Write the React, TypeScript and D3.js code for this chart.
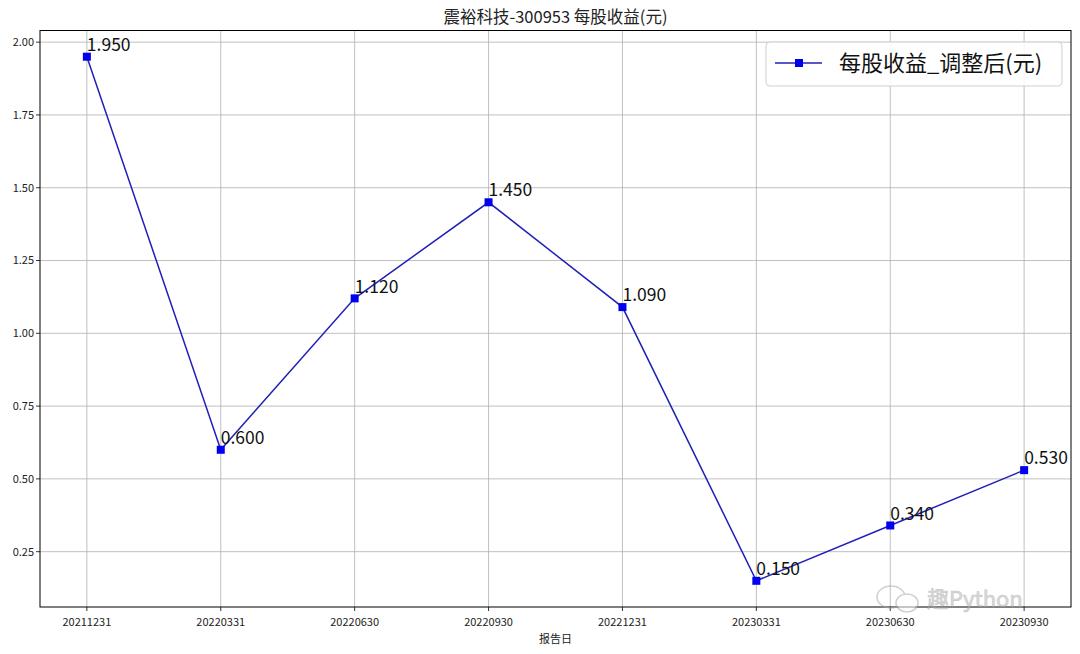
import React from "react";
import * as d3 from "d3";

const dates = ["20211231", "20220331", "20220630", "20220930", "20221231", "20230331", "20230630", "20230930"];
const eps = [1.95, 0.6, 1.12, 1.45, 1.09, 0.15, 0.34, 0.53];
const yTicks = [0.25, 0.5, 0.75, 1.0, 1.25, 1.5, 1.75, 2.0];

const W = 1080, H = 654;
const L = 40, R = 1071, T = 30.5, B = 607;
const FONT = "'Noto Sans CJK SC', 'Noto Sans', sans-serif";

export default function App() {
  const x = d3.scaleLinear().domain([-0.35, dates.length - 1 + 0.35]).range([L, R]);
  const yMin = 0.06, yMax = 2.04;
  const y = d3.scaleLinear().domain([yMin, yMax]).range([B, T]);
  const line = d3.line<number>().x((_, i) => x(i)).y((d) => y(d));
  return (
    <svg width={W} height={H} style={{ position: "absolute", left: 0, top: 0, background: "#fff" }} fontFamily={FONT}>
      <rect x={0} y={0} width={W} height={H} fill="#fff" />
      {/* grid */}
      {dates.map((_, i) => (
        <line key={"gx" + i} x1={x(i)} x2={x(i)} y1={T} y2={B} stroke="#b0b0b0" strokeWidth={0.8} />
      ))}
      {yTicks.map((t) => (
        <line key={"gy" + t} x1={L} x2={R} y1={y(t)} y2={y(t)} stroke="#b0b0b0" strokeWidth={0.8} />
      ))}
      {/* axes frame */}
      <rect x={L} y={T} width={R - L} height={B - T} fill="none" stroke="#000" strokeWidth={1} />
      {/* ticks */}
      {yTicks.map((t) => (
        <g key={"ty" + t}>
          <line x1={L - 4} x2={L} y1={y(t)} y2={y(t)} stroke="#000" strokeWidth={0.8} />
          <text x={L - 6} y={y(t)} dy="0.35em" textAnchor="end" fontSize={11} fill="#222">
            {t.toFixed(2)}
          </text>
        </g>
      ))}
      {dates.map((d, i) => (
        <g key={"tx" + i}>
          <line x1={x(i)} x2={x(i)} y1={B} y2={B + 4} stroke="#000" strokeWidth={0.8} />
          <text x={x(i)} y={B + 19} textAnchor="middle" fontSize={11} fill="#222">
            {d}
          </text>
        </g>
      ))}
      <text x={(L + R) / 2} y={643} textAnchor="middle" fontSize={11} fill="#222">报告日</text>
      <text x={(L + R) / 2} y={23} textAnchor="middle" fontSize={16.5} fill="#222">震裕科技-300953 每股收益(元)</text>
      {/* line */}
      <path d={line(eps) || ""} fill="none" stroke="#2020b8" strokeWidth={1.5} />
      {eps.map((v, i) => (
        <rect key={"m" + i} x={x(i) - 4} y={y(v) - 4} width={8} height={8} fill="#0000ee" />
      ))}
      {eps.map((v, i) => (
        <text key={"l" + i} x={x(i)} y={y(v + 0.02)} fontSize={17.5} fill="#111">
          {v.toFixed(3)}
        </text>
      ))}
      {/* legend */}
      <rect x={766} y={42} width={296} height={44} rx={4} fill="#fff" fillOpacity={0.85} stroke="#d0d0d0" strokeWidth={1} />
      <line x1={775} x2={822} y1={63} y2={63} stroke="#2020b8" strokeWidth={1.5} />
      <rect x={795} y={59} width={8} height={8} fill="#0000ee" />
      <text x={839} y={63} dy="0.35em" fontSize={22} fill="#111">每股收益_调整后(元)</text>
      {/* watermark */}
      <g opacity={0.55}>
        <ellipse cx={891} cy={597} rx={14} ry={11} fill="none" stroke="#aaa" strokeWidth={1.5} />
        <ellipse cx={907} cy={603} rx={11} ry={9} fill="#fff" stroke="#aaa" strokeWidth={1.5} />
        <text x={927} y={607} fontSize={22} fill="#bbb" stroke="#999" strokeWidth={0.6}>趣Python</text>
      </g>
    </svg>
  );
}
